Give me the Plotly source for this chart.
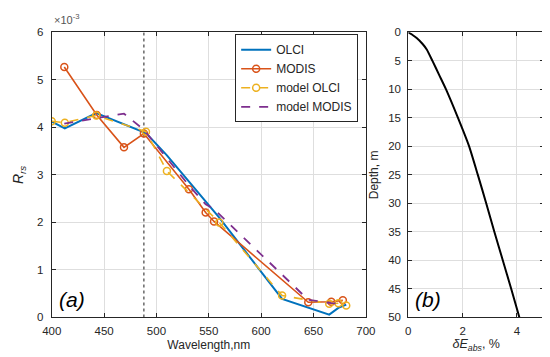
import plotly.graph_objects as go

# ---- data (Rrs values in sr^-1) ----
olci_wl = [400, 412.5, 442.5, 490, 510, 560, 620, 665, 673.75, 681.25]
olci_rrs = [4.12e-3, 3.98e-3, 4.30e-3, 3.88e-3, 3.41e-3, 2.10e-3, 0.39e-3, 0.06e-3, 0.20e-3, 0.27e-3]
model_olci_rrs = [4.13e-3, 4.10e-3, 4.25e-3, 3.91e-3, 3.08e-3, 2.00e-3, 0.46e-3, 0.29e-3, 0.30e-3, 0.25e-3]

modis_wl = [412, 443, 469, 488, 531, 547, 555, 645, 667, 678]
modis_rrs = [5.27e-3, 4.26e-3, 3.58e-3, 3.87e-3, 2.70e-3, 2.21e-3, 2.02e-3, 0.32e-3, 0.33e-3, 0.36e-3]
model_modis_rrs = [4.08e-3, 4.20e-3, 4.29e-3, 3.95e-3, 2.78e-3, 2.38e-3, 2.28e-3, 0.37e-3, 0.30e-3, 0.29e-3]

ref_wl = 488  # vertical dotted reference line

depth = [0, 0.5, 1, 2, 3, 5, 7.5, 10, 15, 20, 25, 30, 35, 40, 45, 50]
dE_abs = [0, 0.17, 0.31, 0.52, 0.68, 0.89, 1.14, 1.39, 1.83, 2.24, 2.56, 2.87, 3.17, 3.48, 3.79, 4.09]

x1_ticks = [400, 450, 500, 550, 600, 650, 700]
y1_ticks = [0, 1e-3, 2e-3, 3e-3, 4e-3, 5e-3, 6e-3]
y1_ticktext = ["0", "1", "2", "3", "4", "5", "6"]
x2_ticks = [0, 2, 4]
y2_ticks = [0, 5, 10, 15, 20, 25, 30, 35, 40, 45, 50]

BLUE = "#0072BD"
RED = "#D95319"
YELLOW = "#EDB120"
PURPLE = "#7E2F8E"
AX = "#262626"
GRID = "#dedede"
FONT = "Liberation Sans, Arial, sans-serif"

fig = go.Figure()

fig.add_trace(go.Scatter(x=[ref_wl, ref_wl], y=[0, 6e-3], mode="lines",
                         line=dict(color="#505050", width=1.3, dash="dot"),
                         showlegend=False, hoverinfo="skip", xaxis="x", yaxis="y"))

fig.add_trace(go.Scatter(x=olci_wl, y=olci_rrs, name="OLCI", mode="lines",
                         line=dict(color=BLUE, width=2), xaxis="x", yaxis="y"))
fig.add_trace(go.Scatter(x=modis_wl, y=modis_rrs, name="MODIS", mode="lines+markers",
                         line=dict(color=RED, width=1.6),
                         marker=dict(symbol="circle-open", size=7, color=RED, line=dict(width=1.5)),
                         xaxis="x", yaxis="y"))
fig.add_trace(go.Scatter(x=olci_wl, y=model_olci_rrs, name="model OLCI", mode="lines+markers",
                         line=dict(color=YELLOW, width=1.6, dash="dash"),
                         marker=dict(symbol="circle-open", size=7, color=YELLOW, line=dict(width=1.5)),
                         xaxis="x", yaxis="y"))
fig.add_trace(go.Scatter(x=modis_wl, y=model_modis_rrs, name="model MODIS", mode="lines",
                         line=dict(color=PURPLE, width=1.8, dash="dash"),
                         xaxis="x", yaxis="y"))

fig.add_trace(go.Scatter(x=dE_abs, y=depth, mode="lines",
                         line=dict(color="black", width=2, shape="spline", smoothing=0.5),
                         showlegend=False, xaxis="x2", yaxis="y2"))

W, H = 550, 357
def px(v):
    return v / W
def py(v):
    return (H - v) / H

axis_common = dict(showline=True, linecolor=AX, linewidth=1, mirror="ticks",
                   ticks="inside", ticklen=4, tickcolor=AX, showgrid=True,
                   gridcolor=GRID, gridwidth=1, zeroline=False,
                   tickfont=dict(family=FONT, size=11.5, color=AX))

fig.update_layout(
    width=W, height=H,
    margin=dict(l=0, r=0, t=0, b=0),
    plot_bgcolor="white", paper_bgcolor="white",
    font=dict(family=FONT, size=12, color=AX),
    xaxis=dict(domain=[px(35), px(361)], range=[400, 700], tickvals=x1_ticks, anchor="y",
               ticklabelstandoff=3,
               title=dict(text="Wavelength,nm", font=dict(size=12, color=AX), standoff=4), **axis_common),
    yaxis=dict(domain=[py(314), py(19)], range=[0, 6e-3], tickvals=y1_ticks, ticktext=y1_ticktext,
               anchor="x", ticklabelstandoff=5,
               title=dict(text="<i>R</i><sub><i>rs</i></sub>", font=dict(size=14, color=AX), standoff=10),
               **axis_common),
    xaxis2=dict(domain=[px(405), px(546)], range=[0, 5], tickvals=x2_ticks, anchor="y2",
                ticklabelstandoff=3,
                title=dict(text="<i>δE</i><sub><i>abs</i></sub>, %", font=dict(size=12.5, color=AX), standoff=2),
                **axis_common),
    yaxis2=dict(domain=[py(314), py(19)], range=[50, 0], tickvals=y2_ticks, anchor="x2",
                ticklabelstandoff=4,
                title=dict(text="Depth, m", font=dict(size=12, color=AX), standoff=6), **axis_common),
    legend=dict(x=px(353), y=py(21), xanchor="right", yanchor="top",
                bgcolor="white", bordercolor=AX, borderwidth=1,
                font=dict(family=FONT, size=12, color=AX),
                tracegroupgap=0, itemwidth=30),
    annotations=[
        dict(text="×10<sup>-3</sup>", xref="paper", yref="paper", x=px(35), y=py(15),
             xanchor="left", yanchor="bottom", showarrow=False,
             font=dict(family=FONT, size=11, color="#555555")),
        dict(text="<i>(a)</i>", xref="paper", yref="paper", x=px(40), y=py(309),
             xanchor="left", yanchor="bottom", showarrow=False,
             font=dict(family=FONT, size=21, color="black")),
        dict(text="<i>(b)</i>", xref="paper", yref="paper", x=px(410), y=py(309),
             xanchor="left", yanchor="bottom", showarrow=False,
             font=dict(family=FONT, size=21, color="black")),
    ],
)

fig.write_html("out.html")
